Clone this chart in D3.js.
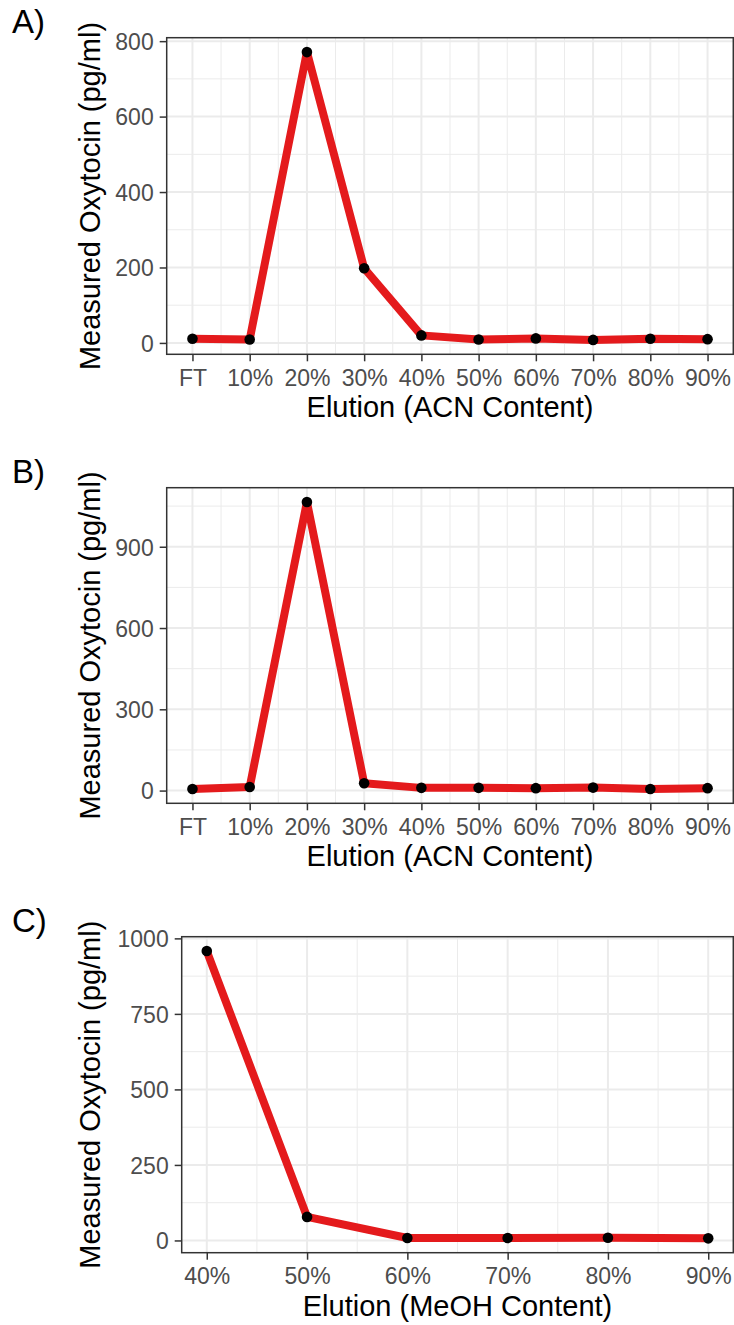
<!DOCTYPE html>
<html>
<head>
<meta charset="utf-8">
<script src="https://cdn.jsdelivr.net/npm/d3@7"></script>
<style>
  html, body { margin: 0; padding: 0; background: #fff; }
  svg { display: block; font-family: "Liberation Sans", Arial, sans-serif; }
</style>
</head>
<body>
<svg id="chart" width="734" height="1325"></svg>
<script>
// ---------- data ----------
const acnLabels = ["FT", "10%", "20%", "30%", "40%", "50%", "60%", "70%", "80%", "90%"];
const acnLevels = [0, 10, 20, 30, 40, 50, 60, 70, 80, 90];
const oxytocinA = [11, 9, 771, 198, 20, 9, 12, 8, 11, 10];
const oxytocinB = [6, 13, 1065, 27, 10, 10, 9, 11, 6, 9];

const meohLabels = ["40%", "50%", "60%", "70%", "80%", "90%"];
const meohLevels = [40, 50, 60, 70, 80, 90];
const oxytocinC = [958, 78, 8, 8, 9, 7];

const yTicksA = [0, 200, 400, 600, 800];
const yTicksB = [0, 300, 600, 900];
const yTicksC = [0, 250, 500, 750, 1000];

const panelTags = ["A)", "B)", "C)"];
const xTitles = ["Elution (ACN Content)", "Elution (ACN Content)", "Elution (MeOH Content)"];
const yTitle = "Measured Oxytocin (pg/ml)";

// ---------- drawing ----------
const svg = d3.select("#chart");
svg.append("rect").attr("width", 734).attr("height", 1325).attr("fill", "#fff");

function expand(ext, f) {
  const d = ext[1] - ext[0];
  return [ext[0] - d * f, ext[1] + d * f];
}
function midpoints(ticks) {
  const m = [];
  for (let i = 0; i < ticks.length - 1; i++) m.push((ticks[i] + ticks[i + 1]) / 2);
  return m;
}

function drawPanel(p) {
  const g = svg.append("g");
  const x = d3.scaleLinear().domain(expand(d3.extent(p.xs), 0.05)).range([p.left, p.right]);
  const y = d3.scaleLinear().domain(expand(d3.extent(p.ys), 0.05)).range([p.bottom, p.top]);
  const xd = x.domain(), yd = y.domain();

  // minor grid
  const xMinor = midpoints(p.xs).filter(v => v > xd[0] && v < xd[1]);
  const yMinor = midpoints(p.yTicks).concat([p.yTicks[p.yTicks.length - 1] + (p.yTicks[1] - p.yTicks[0]) / 2])
    .filter(v => v > yd[0] && v < yd[1]);
  g.selectAll(".xminor").data(xMinor).join("line")
    .attr("x1", d => x(d)).attr("x2", d => x(d)).attr("y1", p.top).attr("y2", p.bottom)
    .attr("stroke", "#EBEBEB").attr("stroke-width", 1);
  g.selectAll(".yminor").data(yMinor).join("line")
    .attr("y1", d => y(d)).attr("y2", d => y(d)).attr("x1", p.left).attr("x2", p.right)
    .attr("stroke", "#EBEBEB").attr("stroke-width", 1);
  // major grid
  g.selectAll(".xmajor").data(p.xs).join("line")
    .attr("x1", d => x(d)).attr("x2", d => x(d)).attr("y1", p.top).attr("y2", p.bottom)
    .attr("stroke", "#EBEBEB").attr("stroke-width", 2);
  g.selectAll(".ymajor").data(p.yTicks).join("line")
    .attr("y1", d => y(d)).attr("y2", d => y(d)).attr("x1", p.left).attr("x2", p.right)
    .attr("stroke", "#EBEBEB").attr("stroke-width", 2);

  // line + points
  const pts = p.xs.map((v, i) => [v, p.ys[i]]);
  g.append("path").datum(pts)
    .attr("d", d3.line().x(d => x(d[0])).y(d => y(d[1])))
    .attr("fill", "none").attr("stroke", "#E41A1C").attr("stroke-width", 8)
    .attr("stroke-linejoin", "round").attr("stroke-linecap", "butt");
  g.selectAll(".pt").data(pts).join("circle")
    .attr("cx", d => x(d[0])).attr("cy", d => y(d[1])).attr("r", 5.3).attr("fill", "#000");

  // border
  g.append("rect").attr("x", p.left).attr("y", p.top)
    .attr("width", p.right - p.left).attr("height", p.bottom - p.top)
    .attr("fill", "none").attr("stroke", "#333333").attr("stroke-width", 1.5);

  // axes
  const xAxis = d3.axisBottom(x).tickValues(p.xs).tickFormat((d, i) => p.xLabels[i])
    .tickSize(7).tickPadding(8);
  const ga = g.append("g").attr("transform", `translate(0,${p.bottom})`).call(xAxis);
  const yAxis = d3.axisLeft(y).tickValues(p.yTicks).tickFormat(d3.format("d")).tickSize(7).tickPadding(6);
  const gy = g.append("g").attr("transform", `translate(${p.left},0)`).call(yAxis);
  [ga, gy].forEach(a => {
    a.select(".domain").remove();
    a.selectAll(".tick line").attr("stroke", "#333333").attr("stroke-width", 1.5);
    a.selectAll(".tick text").attr("fill", "#4D4D4D").style("font-size", "23px")
      .style("font-family", '"Liberation Sans", Arial, sans-serif');
  });
  ga.selectAll(".tick text").attr("dy", null).attr("y", 31.5).attr("dominant-baseline", null);
  gy.selectAll(".tick text").attr("dy", "0.36em");

  // titles
  g.append("text").attr("x", (p.left + p.right) / 2).attr("y", p.bottom + 63)
    .attr("text-anchor", "middle").style("font-size", "29px").attr("fill", "#000")
    .text(p.xTitle);
  g.append("text")
    .attr("transform", `translate(100,${(p.top + p.bottom) / 2}) rotate(-90)`)
    .attr("text-anchor", "middle").style("font-size", "29px").attr("fill", "#000")
    .text(yTitle);
  g.append("text").attr("x", 12).attr("y", p.top - 4.5)
    .style("font-size", "33px").attr("fill", "#000").text(p.tag);
}

drawPanel({ xs: acnLevels, xLabels: acnLabels, ys: oxytocinA, yTicks: yTicksA,
  left: 166.7, right: 733.3, top: 37.7, bottom: 354.3, xTitle: xTitles[0], tag: panelTags[0] });
drawPanel({ xs: acnLevels, xLabels: acnLabels, ys: oxytocinB, yTicks: yTicksB,
  left: 166.7, right: 733.3, top: 487.7, bottom: 803.3, xTitle: xTitles[1], tag: panelTags[1] });
drawPanel({ xs: meohLevels, xLabels: meohLabels, ys: oxytocinC, yTicks: yTicksC,
  left: 181.7, right: 733.3, top: 936.7, bottom: 1252.7, xTitle: xTitles[2], tag: panelTags[2] });
</script>
</body>
</html>
